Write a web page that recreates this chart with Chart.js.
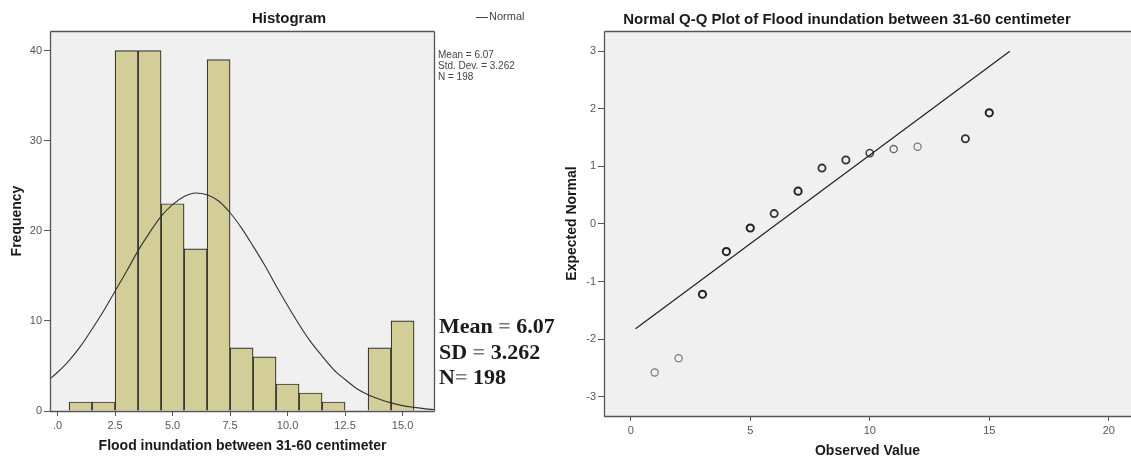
<!DOCTYPE html>
<html><head><meta charset="utf-8">
<script src="https://cdn.jsdelivr.net/npm/chart.js@4.4.0/dist/chart.umd.min.js"></script>
<style>
html,body{margin:0;padding:0;background:#fff;width:1131px;height:461px;overflow:hidden;position:relative}
#w1{position:absolute;left:0;top:0;width:560px;height:461px}
#w2{position:absolute;left:560px;top:0;width:577px;height:461px}
</style></head><body>
<div id="w1"><canvas id="c1"></canvas></div>
<div id="w2"><canvas id="c2"></canvas></div>
<script>
// ---------- data ----------
const binCenters = [1, 2, 3, 4, 5, 6, 7, 8, 9, 10, 11, 12, 13, 14, 15];
const binCounts  = [1, 1, 40, 40, 23, 18, 39, 7, 6, 3, 2, 1, 0, 7, 10];
const curveX = [-0.4, 0, 0.5, 1, 1.5, 2, 2.5, 3, 3.5, 4, 4.5, 5, 5.5, 6, 6.5, 7, 7.5, 8, 8.5, 9, 9.5, 10, 10.5, 11, 11.5, 12, 12.5, 13, 13.5, 14, 14.5, 15, 15.5, 16, 16.4];
const curveY = [3.4, 4.3, 5.6, 7.2, 9.1, 11.1, 13.3, 15.5, 17.8, 19.8, 21.6, 22.9, 23.8, 24.2, 24.0, 23.3, 22.0, 20.3, 18.3, 16.2, 13.9, 11.7, 9.6, 7.7, 6.1, 4.6, 3.5, 2.5, 1.8, 1.3, 0.9, 0.6, 0.4, 0.24, 0.16];
const histXTicks = [0, 2.5, 5, 7.5, 10, 12.5, 15];
const histXLabels = ['.0', '2.5', '5.0', '7.5', '10.0', '12.5', '15.0'];
const histYTicks = [0, 10, 20, 30, 40];
const statMean = '6.07';
const statSD = '3.262';
const statN = '198';

const qqObserved = [1, 2, 3, 4, 5, 6, 7, 8, 9, 10, 11, 12, 14, 15];
const qqExpected = [-2.58, -2.33, -1.22, -0.48, -0.07, 0.18, 0.57, 0.97, 1.11, 1.23, 1.30, 1.34, 1.48, 1.93];
const qqLineX = [0.2, 15.86];
const qqLineY = [-1.82, 3.00];
const qqXTicks = [0, 5, 10, 15, 20];
const qqYTicks = [-3, -2, -1, 0, 1, 2, 3];

// ---------- helpers ----------
const SANS = '"Liberation Sans", Arial, sans-serif';
const SERIF = '"Liberation Serif", "Times New Roman", serif';

const areaPlugin = {
  id: 'area',
  beforeDraw(chart, args, o) {
    const {ctx, chartArea: a} = chart;
    ctx.save();
    ctx.fillStyle = o.bg;
    const r = o.right ? a.right : chart.width;
    ctx.fillRect(a.left, a.top, r - a.left, a.bottom - a.top);
    ctx.restore();
  },
  afterDraw(chart, args, o) {
    const {ctx, chartArea: a} = chart;
    ctx.save();
    ctx.strokeStyle = o.border;
    ctx.lineWidth = 1.3;
    const l = Math.round(a.left) + 0.5, t = Math.round(a.top) + 0.5,
          r = Math.round(a.right) - 0.5, b = Math.round(a.bottom) + 0.5;
    ctx.beginPath();
    ctx.moveTo(l, t); ctx.lineTo(l, b); ctx.lineTo(o.right ? r : chart.width, b);
    ctx.moveTo(l, t); ctx.lineTo(o.right ? r : chart.width, t);
    if (o.right) { ctx.moveTo(r, t); ctx.lineTo(r, b); }
    ctx.stroke();
    ctx.restore();
  }
};

const textPlugin = {
  id: 'texts',
  afterDraw(chart, args, o) {
    const ctx = chart.ctx;
    ctx.save();
    (o.items || []).forEach(it => {
      ctx.textBaseline = 'middle';
      if (it.parts) {
        let x = it.x;
        ctx.textAlign = 'left';
        it.parts.forEach(p => {
          ctx.font = it.font;
          ctx.fillStyle = p.color;
          ctx.fillText(p.text, x, it.y);
          x += ctx.measureText(p.text).width;
        });
      } else {
        ctx.font = it.font;
        ctx.fillStyle = it.color;
        ctx.textAlign = it.align || 'left';
        ctx.fillText(it.text, it.x, it.y);
      }
    });
    if (o.legendLine) {
      const L = o.legendLine;
      ctx.strokeStyle = L.color; ctx.lineWidth = 1;
      ctx.beginPath(); ctx.moveTo(L.x1, L.y + 0.5); ctx.lineTo(L.x2, L.y + 0.5); ctx.stroke();
    }
    ctx.restore();
  }
};

function noPad(s) { s.paddingLeft = 0; s.paddingRight = 0; s.paddingTop = 0; s.paddingBottom = 0; }

function axisCommon(extra) {
  return Object.assign({
    type: 'linear',
    offset: false,
    border: {display: false},
    grid: {display: true, drawOnChartArea: false, drawTicks: true, tickLength: 6, color: '#555', lineWidth: 1, offset: false},
    ticks: {font: {family: SANS, size: 11}, color: '#555', padding: 2, autoSkip: false, maxRotation: 0, includeBounds: false}
  }, extra);
}

// ---------- histogram ----------
const darkText = '#1a1a1a';
new Chart(document.getElementById('c1'), {
  type: 'bar',
  data: {
    datasets: [
      {
        type: 'line',
        label: 'Normal',
        data: curveX.map((x, i) => ({x, y: curveY[i]})),
        borderColor: '#333',
        borderWidth: 1.1,
        pointRadius: 0,
        fill: false,
        cubicInterpolationMode: 'monotone',
        order: 0
      },
      {
        type: 'bar',
        label: 'Frequency',
        data: binCenters.map((x, i) => ({x, y: binCounts[i]})),
        backgroundColor: '#d3ce97',
        borderColor: '#333',
        borderWidth: 1.2,
        barPercentage: 1,
        categoryPercentage: 1,
        order: 1
      }
    ]
  },
  options: {
    responsive: true, maintainAspectRatio: false, animation: false, devicePixelRatio: 1,
    layout: {padding: {left: 0, top: 31, right: 125, bottom: 0}},
    plugins: {
      legend: {display: false}, tooltip: {enabled: false}, title: {display: false},
      area: {bg: '#f0f0f0', border: '#555', right: true},
      texts: {
        items: [
          {text: 'Histogram', x: 289, y: 19, font: `bold 15px ${SANS}`, color: darkText, align: 'center'},
          {text: 'Normal', x: 489, y: 17, font: `11px ${SANS}`, color: '#444'},
          {text: 'Mean = ' + statMean, x: 438, y: 55, font: `10px ${SANS}`, color: '#444'},
          {text: 'Std. Dev. = ' + statSD, x: 438, y: 66, font: `10px ${SANS}`, color: '#444'},
          {text: 'N = ' + statN, x: 438, y: 77, font: `10px ${SANS}`, color: '#444'},
          {x: 439, y: 327, font: `bold 22px ${SERIF}`, parts: [{text: 'Mean ', color: darkText}, {text: '=', color: '#777'}, {text: ' ' + statMean, color: darkText}]},
          {x: 439, y: 353, font: `bold 22px ${SERIF}`, parts: [{text: 'SD ', color: darkText}, {text: '=', color: '#777'}, {text: ' ' + statSD, color: darkText}]},
          {x: 439, y: 378, font: `bold 22px ${SERIF}`, parts: [{text: 'N', color: darkText}, {text: '=', color: '#777'}, {text: ' ' + statN, color: darkText}]}
        ],
        legendLine: {x1: 476, x2: 488, y: 17, color: '#444'}
      }
    },
    scales: {
      x: axisCommon({
        min: -0.33, max: 16.41,
        afterBuildTicks: s => { s.ticks = histXTicks.map(v => ({value: v})); },
        afterFit: s => { s.height = 50; noPad(s); },
        grid: {display: true, drawOnChartArea: false, drawTicks: true, tickLength: 5, color: '#555', offset: false},
        ticks: {font: {family: SANS, size: 11}, color: '#555', padding: 3, autoSkip: false, maxRotation: 0, minRotation: 0,
                callback: v => histXLabels[histXTicks.indexOf(v)]},
        title: {display: true, text: 'Flood inundation between 31-60 centimeter', font: {family: SANS, size: 14, weight: 'bold'}, color: darkText, padding: {top: 0, bottom: 6}}
      }),
      y: axisCommon({
        min: 0, max: 42.17,
        afterBuildTicks: s => { s.ticks = histYTicks.map(v => ({value: v})); },
        afterFit: s => { s.width = 50; noPad(s); },
        title: {display: true, text: 'Frequency', font: {family: SANS, size: 14, weight: 'bold'}, color: darkText, padding: {top: 9, bottom: 0}}
      })
    }
  },
  plugins: [areaPlugin, textPlugin]
});

// ---------- Q-Q plot ----------
new Chart(document.getElementById('c2'), {
  type: 'scatter',
  data: {
    datasets: [
      {
        label: 'Observed',
        data: qqObserved.map((x, i) => ({x, y: qqExpected[i]})),
        showLine: false,
        pointStyle: 'circle',
        pointRadius: 3.6,
        pointBackgroundColor: 'rgba(0,0,0,0)',
        pointBorderColor: ['#777', '#777', '#222', '#222', '#222', '#333', '#222', '#333', '#333', '#444', '#666', '#777', '#333', '#222'],
        pointBorderWidth: [1.2, 1.2, 2, 2, 2, 1.8, 2, 1.8, 1.8, 1.6, 1.3, 1.2, 1.8, 2],
        order: 1
      },
      {
        label: 'Line',
        data: qqLineX.map((x, i) => ({x, y: qqLineY[i]})),
        showLine: true,
        borderColor: '#222',
        borderWidth: 1.2,
        pointRadius: 0,
        fill: false,
        order: 0
      }
    ]
  },
  options: {
    responsive: true, maintainAspectRatio: false, animation: false, devicePixelRatio: 1,
    layout: {padding: {left: 0, top: 31, right: 0, bottom: 0}},
    plugins: {
      legend: {display: false}, tooltip: {enabled: false}, title: {display: false},
      area: {bg: '#f0f0f0', border: '#555', right: false},
      texts: {
        items: [
          {text: 'Normal Q-Q Plot of Flood inundation between 31-60 centimeter', x: 287, y: 20, font: `bold 15px ${SANS}`, color: darkText, align: 'center'}
        ]
      }
    },
    scales: {
      x: axisCommon({
        min: -1.12, max: 20.93,
        afterBuildTicks: s => { s.ticks = qqXTicks.map(v => ({value: v})); },
        afterFit: s => { s.height = 45; noPad(s); },
        grid: {display: true, drawOnChartArea: false, drawTicks: true, tickLength: 5, color: '#555', offset: false},
        ticks: {font: {family: SANS, size: 11}, color: '#555', padding: 3, autoSkip: false, maxRotation: 0, minRotation: 0},
        title: {display: true, text: 'Observed Value', font: {family: SANS, size: 14, weight: 'bold'}, color: darkText, padding: {top: 0, bottom: 1}}
      }),
      y: axisCommon({
        min: -3.334, max: 3.35,
        afterBuildTicks: s => { s.ticks = qqYTicks.map(v => ({value: v})); },
        afterFit: s => { s.width = 44; noPad(s); },
        title: {display: true, text: 'Expected Normal', font: {family: SANS, size: 14, weight: 'bold'}, color: darkText, padding: {top: 4, bottom: 0}}
      })
    }
  },
  plugins: [areaPlugin, textPlugin]
});
</script>
</body></html>
